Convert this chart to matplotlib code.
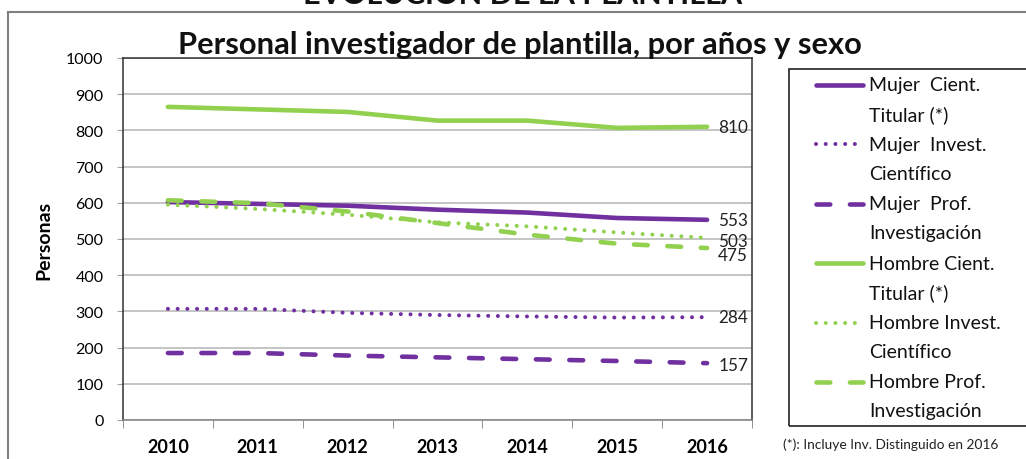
import matplotlib
matplotlib.use('Agg')
import matplotlib.pyplot as plt
from matplotlib.lines import Line2D
from matplotlib.patches import Rectangle

# datos
years = ['2010', '2011', '2012', '2013', '2014', '2015', '2016']
mujer_cient = [602, 597, 592, 581, 573, 558, 553]
mujer_invest = [307, 307, 296, 290, 286, 283, 284]
mujer_prof = [185, 185, 178, 173, 168, 163, 157]
hombre_cient = [865, 858, 851, 827, 827, 807, 810]
hombre_invest = [595, 583, 567, 546, 535, 518, 503]
hombre_prof = [607, 599, 576, 544, 512, 487, 475]

labels = ['Mujer  Cient.\nTitular (*)', 'Mujer  Invest.\nCientífico', 'Mujer  Prof.\nInvestigación',
          'Hombre Cient.\nTitular (*)', 'Hombre Invest.\nCientífico', 'Hombre Prof.\nInvestigación']

PURPLE = '#7030A0'
GREEN = '#92D050'
FONT = ['Lato', 'DejaVu Sans']
plt.rcParams['font.family'] = FONT

series = [mujer_cient, mujer_invest, mujer_prof, hombre_cient, hombre_invest, hombre_prof]
colors = [PURPLE, PURPLE, PURPLE, GREEN, GREEN, GREEN]
styles = ['solid', 'dot', 'dash', 'solid', 'dot', 'dash']
# desplazamiento vertical de las etiquetas finales (px)
label_dy = [0, 0, -2, 0, -3, -7]

fig = plt.figure(figsize=(10.26, 4.6), dpi=100)
W, H = 1026, 460
ax = fig.add_axes([123 / W, 39 / H, (752 - 123) / W, (421 - 59) / H])

x = list(range(len(years)))


def style_kw(st):
    if st == 'solid':
        return dict(linestyle='-', solid_capstyle='round')
    if st == 'dot':
        return dict(linestyle=(0, (0.01, 2.4)), dash_capstyle='round')
    return dict(linestyle=(0, (3.0, 4.3)), dash_capstyle='round')


for vals, c, st, dy in zip(series, colors, styles, label_dy):
    lw = 3.3 if st != 'dot' else 2.9
    ax.plot(x, vals, color=c, lw=lw, **style_kw(st))
    ax.annotate(str(vals[-1]), (x[-1], vals[-1]), xytext=(8, dy * 0.72), textcoords='offset points',
                ha='left', va='center', fontsize=12.3, color='#222222')

ax.set_xlim(-0.5, 6.5)
ax.set_ylim(0, 1000)
ax.set_yticks(range(0, 1001, 100))
ax.yaxis.grid(True, color='#C0C0C0', lw=1.3)
ax.set_axisbelow(True)
ax.set_xticks(x)
ax.set_xticklabels(years, fontsize=13, fontweight='bold')
ax.set_xticks([i - 0.5 for i in range(len(years) + 1)], minor=True)
ax.tick_params(axis='x', which='major', length=0, pad=13)
ax.tick_params(axis='x', which='minor', length=6, color='#808080')
ax.tick_params(axis='y', length=4, color='#A0A0A0', labelsize=11.5, pad=10)
for side, s in ax.spines.items():
    s.set_color('#808080' if side == 'bottom' else '#303030')
    s.set_linewidth(1.1)
ax.set_ylabel('Personas', fontsize=14, fontweight='bold', labelpad=10)

# título
fig.text(520 / W, 1 - 45 / H, 'Personal investigador de plantilla, por años y sexo',
         ha='center', va='center', fontsize=22.2, fontweight='bold', color='#111111')
fig.text(523 / W, 1 - 4 / H, 'EVOLUCIÓN DE LA PLANTILLA', ha='center', va='baseline',
         fontsize=22, fontweight='bold', color='#111111')

# marco exterior
fig.add_artist(Line2D([8 / W, 1], [1 - 13 / H, 1 - 13 / H], transform=fig.transFigure,
                      color='#808080', lw=1.5))
fig.add_artist(Line2D([8 / W, 8 / W], [0, 1 - 13 / H], transform=fig.transFigure,
                      color='#808080', lw=1.5))

# leyenda manual
fig.add_artist(Rectangle((789 / W, 1 - 427 / H), 0.3, (427 - 70) / H, transform=fig.transFigure,
                         fill=False, edgecolor='#222222', lw=1.2))
for i, (lab, c, st) in enumerate(zip(labels, colors, styles)):
    y0 = 86 + i * 59.4
    lw = 3.3 if st != 'dot' else 2.9
    fig.add_artist(Line2D([816 / W, 863 / W], [1 - y0 / H, 1 - y0 / H], transform=fig.transFigure,
                          color=c, lw=lw, **style_kw(st)))
    first, second = lab.split('\n')
    fig.text(869 / W, 1 - y0 / H, first, ha='left', va='center', fontsize=14, color='#111111')
    fig.text(869 / W, 1 - (y0 + 29) / H, second, ha='left', va='center', fontsize=14, color='#111111')

fig.text(783 / W, 1 - 445 / H, '(*): Incluye Inv. Distinguido en 2016', ha='left', va='center',
         fontsize=9.9, color='#222222')

fig.savefig('out.png', dpi=100)
